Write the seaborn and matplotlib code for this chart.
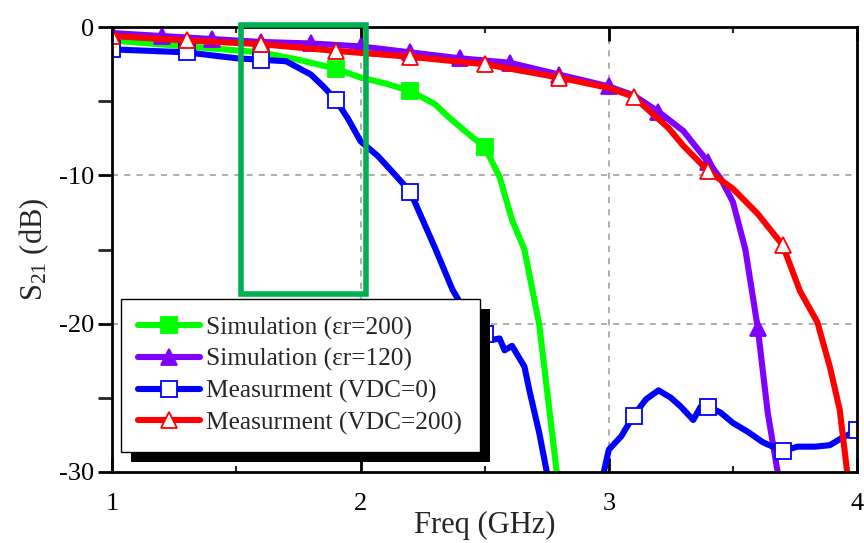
import numpy as np
import pandas as pd
import matplotlib
matplotlib.use('Agg')
import matplotlib.pyplot as plt
from matplotlib.patches import Rectangle
import seaborn as sns

# S21 curves (GHz, dB)
sim200_f = [1.0, 1.15, 1.3, 1.45, 1.6, 1.75, 1.9, 2.0, 2.1, 2.2, 2.3, 2.35, 2.42, 2.5,
            2.56, 2.61, 2.66, 2.72, 2.79, 2.83]
sim200_s = [-0.9, -1.1, -1.3, -1.5, -1.7, -2.2, -2.8, -3.4, -3.8, -4.3, -5.2, -6.0, -7.0, -8.1,
            -10.1, -13.0, -15.0, -20.1, -30.0, -35.0]

sim120_f = [1.0, 1.2, 1.4, 1.6, 1.8, 2.0, 2.2, 2.4, 2.6, 2.8, 3.0, 3.1, 3.2, 3.3, 3.4,
            3.45, 3.5, 3.55, 3.6, 3.64, 3.68, 3.71]
sim120_s = [-0.4, -0.6, -0.8, -1.0, -1.1, -1.3, -1.7, -2.1, -2.4, -3.2, -4.0, -4.6, -5.7, -7.0, -9.1,
            -10.2, -11.8, -15.0, -20.3, -26.0, -30.0, -35.0]

meas0_f = [1.0, 1.15, 1.3, 1.5, 1.6, 1.7, 1.8, 1.85, 1.9, 1.95, 2.0, 2.07, 2.13, 2.2, 2.25,
           2.3, 2.37, 2.45, 2.5, 2.53, 2.56, 2.58, 2.61, 2.66, 2.68, 2.72, 2.75, 2.78,
           2.95, 2.98, 3.0, 3.05, 3.1, 3.15, 3.2, 3.25, 3.29, 3.34, 3.37, 3.4, 3.45, 3.5,
           3.56, 3.62, 3.7, 3.76, 3.83, 3.89, 3.94, 4.0]
meas0_s = [-1.5, -1.6, -1.7, -2.1, -2.2, -2.3, -3.2, -4.0, -4.9, -6.2, -7.7, -8.7, -9.8, -11.1, -13.0,
           -14.9, -17.7, -20.0, -20.7, -21.1, -21.0, -21.8, -21.5, -22.9, -24.5, -27.4, -30.0, -34.0,
           -34.0, -30.0, -28.5, -27.6, -26.2, -25.1, -24.5, -25.0, -25.6, -26.5, -25.6, -25.6, -26.0, -26.7,
           -27.3, -28.0, -28.6, -28.3, -28.3, -28.2, -27.7, -27.2]

meas200_f = [1.0, 1.3, 1.6, 1.9, 2.2, 2.5, 2.8, 3.0, 3.1, 3.16, 3.24, 3.3, 3.4, 3.5, 3.6,
             3.7, 3.77, 3.84, 3.89, 3.93, 3.96, 3.98]
meas200_s = [-0.6, -0.9, -1.15, -1.6, -2.0, -2.5, -3.4, -4.1, -4.7, -5.6, -6.8, -8.0, -9.7, -10.9, -12.6,
             -14.7, -17.8, -19.9, -22.9, -25.8, -30.0, -35.0]

# where the symbols sit on each curve
sim200_marks = [1.0, 1.3, 1.6, 1.9, 2.2, 2.5]
sim120_marks = [1.0, 1.2, 1.4, 1.6, 1.8, 2.0, 2.2, 2.4, 2.6, 2.8, 3.0, 3.2, 3.4, 3.6]
meas0_marks = [1.0, 1.3, 1.6, 1.9, 2.2, 2.5, 3.1, 3.4, 3.7, 4.0]
meas200_marks = [1.0, 1.3, 1.6, 1.9, 2.2, 2.5, 2.8, 3.1, 3.4, 3.7]

labels = ['Simulation (\u03b5r=200)', 'Simulation (\u03b5r=120)',
          'Measurment (VDC=0)', 'Measurment (VDC=200)']

sns.set_style('ticks')
plt.rcParams['font.family'] = ['Liberation Serif', 'DejaVu Serif']
plt.rcParams['mathtext.fontset'] = 'custom'
plt.rcParams['mathtext.rm'] = 'Liberation Serif'
plt.rcParams['mathtext.it'] = 'Liberation Serif:italic'
plt.rcParams['axes.unicode_minus'] = False

fig = plt.figure(figsize=(8.64, 5.43), dpi=100)
ax = fig.add_axes([0.130, 0.131, 0.862, 0.819])


def mark_idx(f, marks):
    f = np.asarray(f)
    return [int(np.argmin(np.abs(f - m))) for m in marks]


series = [
    (sim200_f, sim200_s, sim200_marks, '#00ff00', 's', '#00ff00', '#00ff00'),
    (sim120_f, sim120_s, sim120_marks, '#8000ff', '^', '#8000ff', '#8000ff'),
    (meas0_f, meas0_s, meas0_marks, '#0000ff', 's', 'white', '#0000ff'),
    (meas200_f, meas200_s, meas200_marks, '#ff0000', '^', 'white', '#ff0000'),
]

for (f, s, marks, col, mk, fc, ec), lab in zip(series, labels):
    df = pd.DataFrame({'f': f, 's': s})
    sns.lineplot(data=df, x='f', y='s', ax=ax, color=col, linewidth=4.4,
                 marker=mk, markevery=mark_idx(f, marks), markersize=11.5,
                 markerfacecolor=fc, markeredgecolor=ec, markeredgewidth=1.3,
                 label=lab, estimator=None, sort=False)

ax.set_xlim(1, 4)
ax.set_ylim(-30, 0)
ax.set_xticks([1, 2, 3, 4])
ax.set_xticks([1.5, 2.5, 3.5], minor=True)
ax.set_yticks([0, -10, -20, -30])
ax.set_yticks([-5, -15, -25], minor=True)
ax.tick_params(axis='both', labelsize=19, colors='black')
ax.tick_params(axis='y', which='both', direction='out', length=10, width=2, pad=3)
ax.tick_params(axis='x', which='major', direction='in', length=10, width=2, pad=15,
               top=True)
ax.tick_params(axis='x', which='minor', direction='in', length=4, width=1.5, top=True)
for sp in ax.spines.values():
    sp.set_linewidth(2)
    sp.set_color('black')

for g in [2, 3]:
    ax.axvline(g, color='#999999', lw=1.1, ls=(0, (4, 4)), zorder=0.5)
for g in [-10, -20]:
    ax.axhline(g, color='#999999', lw=1.1, ls=(0, (4, 4)), zorder=0.5)

ax.set_xlabel('Freq (GHz)', fontsize=22, labelpad=-3)
ax.set_ylabel('S$_{21}$ (dB)', fontsize=22, labelpad=6)

ax.add_patch(Rectangle((1.517, -18.0), 0.506, 18.17, fill=False,
                       edgecolor='#00b050', linewidth=4, clip_on=False, zorder=4))

leg = ax.legend(loc='lower left', bbox_to_anchor=(0.011, 0.045), borderaxespad=0,
                fontsize=18.3, frameon=True, fancybox=False, edgecolor='black',
                framealpha=1, handlelength=2.45, handletextpad=0.25,
                labelspacing=0.33, borderpad=0.68, numpoints=1)
leg.get_frame().set_linewidth(1)
leg.set_zorder(6)

# hard black drop shadow behind the legend
fig.canvas.draw()
bb = leg.get_window_extent().transformed(ax.transAxes.inverted())
dx = 10 / (ax.bbox.width)
dy = 10 / (ax.bbox.height)
ax.add_patch(Rectangle((bb.x0 + dx, bb.y0 - dy), bb.width, bb.height,
                       transform=ax.transAxes, facecolor='black', edgecolor='none',
                       zorder=5.5, clip_on=False))

fig.savefig('out.png', dpi=100)
